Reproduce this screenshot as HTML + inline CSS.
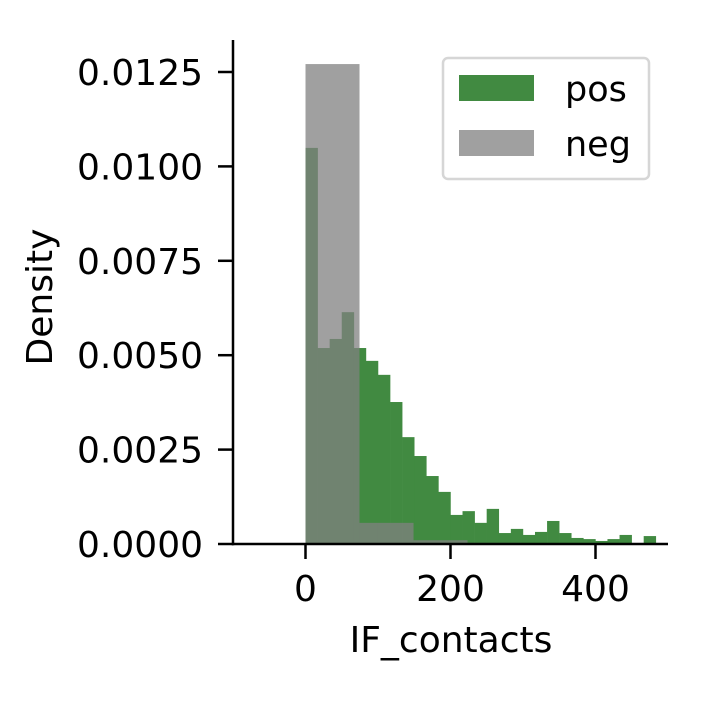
<!DOCTYPE html>
<html><head><meta charset="utf-8"><style>
body{margin:0;background:#fff;}
svg text{font-family:"DejaVu Sans","Liberation Sans",sans-serif;fill:#000;}
</style></head><body>
<svg id="chart" width="708" height="708" xmlns="http://www.w3.org/2000/svg">
<g id="bars"></g>
<g id="axes"></g>
<g id="legend">
<rect x="443" y="58" width="206" height="121" rx="5" fill="#fff" fill-opacity="0.8" stroke="#d6d6d6" stroke-width="2.5"/>
<rect x="459" y="75" width="75" height="26" fill="#418a41"/>
<text x="565" y="101" font-size="35">pos</text>
<rect x="459" y="130" width="75" height="26" fill="#808080" fill-opacity="0.75"/>
<text x="565" y="156" font-size="35">neg</text>
</g>
</svg>
<script>
const posValues=[0.01049,0.00519,0.00543,0.00614,0.00519,0.00485,0.00448,0.00376,0.00283,0.00233,0.00180,0.00138,0.00077,0.00087,0.00056,0.00093,0.00029,0.00040,0.00024,0.00032,0.00061,0.00029,0.00016,0.00013,0.00008,0.00013,0.00024,0,0.00021];
const posBinWidth=16.66;
const negValues=[0.01271,0.00056,0.00010,0.00003];
const negBinWidth=74.5;
const xTicks=[0,200,400];
const yTicks=[0,0.0025,0.005,0.0075,0.01,0.0125];
const yTickLabels=["0.0000","0.0025","0.0050","0.0075","0.0100","0.0125"];

const X0=233,X1=668,Y0=544,YT=40;
const xMin=-100,xMax=500,yMax=0.0125/((544-72)/(544-40));
const xs=v=>X0+(v-xMin)/(xMax-xMin)*(X1-X0);
const ys=v=>Y0-v/yMax*(Y0-YT);
const NS="http://www.w3.org/2000/svg";
function mk(t,a,p){const e=document.createElementNS(NS,t);for(const k in a)e.setAttribute(k,a[k]);p.appendChild(e);return e;}
const bars=document.getElementById('bars'),axes=document.getElementById('axes');
posValues.forEach((v,i)=>{
 const x=xs(i*posBinWidth),w=xs((i+1)*posBinWidth)-x;
 const r=mk('rect',{x:x,y:ys(v),width:w+0.3,height:Y0-ys(v),fill:'#418a41'},bars);
 
 
});
negValues.forEach((v,i)=>{
 const x=xs(i*negBinWidth),w=xs((i+1)*negBinWidth)-x;
 const r=mk('rect',{x:x,y:ys(v),width:w,height:Y0-ys(v),fill:'#808080','fill-opacity':0.75},bars);
 
 
});
const la=mk('line',{x1:X0,y1:YT,x2:X0,y2:Y0+1.25,stroke:'#000','stroke-width':2.5},axes);


const lb=mk('line',{x1:X0-1.25,y1:Y0,x2:X1,y2:Y0,stroke:'#000','stroke-width':2.5},axes);


xTicks.forEach(v=>{
 const x=xs(v);
 mk('line',{x1:x,y1:Y0,x2:x,y2:Y0+15,stroke:'#000','stroke-width':2.5},axes);
 const t=mk('text',{x:x,y:601,'font-size':36,'text-anchor':'middle'},axes);
 t.textContent=v;
 
 
});
yTicks.forEach((v,i)=>{
 const y=ys(v);
 mk('line',{x1:X0-15,y1:y,x2:X0,y2:y,stroke:'#000','stroke-width':2.5},axes);
 const t=mk('text',{x:203,y:y+13,'font-size':36,'text-anchor':'end'},axes);
 t.textContent=yTickLabels[i];
 
 
});
const xt=mk('text',{x:451,y:652,'font-size':36,'text-anchor':'middle'},axes);
xt.textContent='IF_contacts';


const yt=mk('text',{x:0,y:0,'font-size':36,'text-anchor':'middle',transform:'translate(52,297) rotate(-90)'},axes);
yt.textContent='Density';


</script>
</body></html>
